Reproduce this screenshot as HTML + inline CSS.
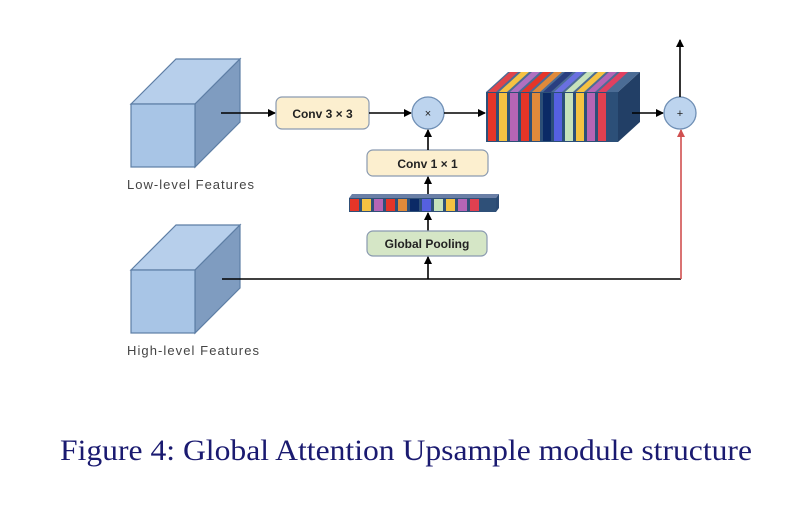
<!DOCTYPE html>
<html><head><style>html,body{margin:0;padding:0;background:#fff;}</style></head>
<body>
<svg width="800" height="507" viewBox="0 0 800 507" xmlns="http://www.w3.org/2000/svg" font-family="Liberation Sans, sans-serif">
<defs>
<marker id="ah" markerWidth="8" markerHeight="8" refX="7" refY="4" orient="auto" markerUnits="userSpaceOnUse"><path d="M0,0 L8,4 L0,8 Z" fill="#000"/></marker>
<marker id="ahr" markerWidth="8" markerHeight="8" refX="7" refY="4" orient="auto" markerUnits="userSpaceOnUse"><path d="M0,0 L8,4 L0,8 Z" fill="#d05050"/></marker>
</defs>
<g stroke="#5d7ea5" stroke-width="1.2">
<polygon points="131,104 176,59 240,59 195,104" fill="#b7cfeb"/>
<polygon points="195,104 240,59 240,122 195,167" fill="#7f9cc0"/>
<rect x="131" y="104" width="64" height="63" fill="#a8c5e6"/>
</g>
<text x="127" y="189" font-size="13" fill="#444" textLength="127">Low-level Features</text>
<g stroke="#5d7ea5" stroke-width="1.2">
<polygon points="131,270 176,225 240,225 195,270" fill="#b7cfeb"/>
<polygon points="195,270 240,225 240,288 195,333" fill="#7f9cc0"/>
<rect x="131" y="270" width="64" height="63" fill="#a8c5e6"/>
</g>
<text x="127" y="355" font-size="13" fill="#444" textLength="132">High-level Features</text>
<line x1="221" y1="113" x2="275" y2="113" stroke="#000" stroke-width="1.6" marker-end="url(#ah)"/>
<rect x="276" y="97" width="93" height="32" rx="6" fill="#fcefcf" stroke="#8a9ab0" stroke-width="1.2"/>
<text x="322.5" y="118" font-size="12" font-weight="bold" text-anchor="middle" fill="#222">Conv 3 × 3</text>
<line x1="369" y1="113" x2="411" y2="113" stroke="#000" stroke-width="1.6" marker-end="url(#ah)"/>
<circle cx="428" cy="113" r="16" fill="#bdd4ee" stroke="#6f8fb5" stroke-width="1.3"/>
<text x="428" y="117" font-size="11" text-anchor="middle" fill="#222">×</text>
<line x1="444" y1="113" x2="485" y2="113" stroke="#000" stroke-width="1.6" marker-end="url(#ah)"/>
<rect x="367" y="150" width="121" height="26" rx="6" fill="#fcefcf" stroke="#8a9ab0" stroke-width="1.2"/>
<text x="427.5" y="168" font-size="12" font-weight="bold" text-anchor="middle" fill="#222">Conv 1 × 1</text>
<line x1="428" y1="150" x2="428" y2="130" stroke="#000" stroke-width="1.6" marker-end="url(#ah)"/>
<line x1="428" y1="196" x2="428" y2="177" stroke="#000" stroke-width="1.6" marker-end="url(#ah)"/>
<g>
<polygon points="349,198 352,194 499,194 496,198" fill="#6a7fa6"/>
<polygon points="496,198 499,194 499,208 496,212" fill="#2b4a73"/>
<rect x="349" y="198" width="147" height="14" fill="#2f5078"/>
<rect x="350" y="199" width="9" height="12" fill="#e53528"/>
<rect x="362" y="199" width="9" height="12" fill="#f5c242"/>
<rect x="374" y="199" width="9" height="12" fill="#b565b5"/>
<rect x="386" y="199" width="9" height="12" fill="#e53528"/>
<rect x="398" y="199" width="9" height="12" fill="#e08a3a"/>
<rect x="410" y="199" width="9" height="12" fill="#0b2a66"/>
<rect x="422" y="199" width="9" height="12" fill="#5560e0"/>
<rect x="434" y="199" width="9" height="12" fill="#c7e2bb"/>
<rect x="446" y="199" width="9" height="12" fill="#f5c242"/>
<rect x="458" y="199" width="9" height="12" fill="#b565b5"/>
<rect x="470" y="199" width="9" height="12" fill="#e04050"/>
</g>
<line x1="428" y1="231" x2="428" y2="213" stroke="#000" stroke-width="1.6" marker-end="url(#ah)"/>
<rect x="367" y="231" width="120" height="25" rx="6" fill="#d5e6c6" stroke="#8a9ab0" stroke-width="1.2"/>
<text x="427" y="248" font-size="12" font-weight="bold" text-anchor="middle" fill="#222">Global Pooling</text>
<line x1="428" y1="279" x2="428" y2="257" stroke="#000" stroke-width="1.6" marker-end="url(#ah)"/>
<line x1="222" y1="279" x2="681" y2="279" stroke="#000" stroke-width="1.6"/>
<polygon points="486,92 508,72 640,72 618,92" fill="#4b6c95"/>
<g>
<polygon points="488,92 510,72 518,72 496,92" fill="#e0454a"/>
<polygon points="499,92 521,72 529,72 507,92" fill="#f5c242"/>
<polygon points="510,92 532,72 540,72 518,92" fill="#b070c0"/>
<polygon points="521,92 543,72 551,72 529,92" fill="#e53528"/>
<polygon points="532,92 554,72 562,72 540,92" fill="#e08a3a"/>
<polygon points="543,92 565,72 573,72 551,92" fill="#2a3f80"/>
<polygon points="554,92 576,72 584,72 562,92" fill="#6a70e0"/>
<polygon points="565,92 587,72 595,72 573,92" fill="#c7e2bb"/>
<polygon points="576,92 598,72 606,72 584,92" fill="#f5c242"/>
<polygon points="587,92 609,72 617,72 595,92" fill="#b565b5"/>
<polygon points="598,92 620,72 628,72 606,92" fill="#e04060"/>
</g>
<polygon points="618,92 640,72 640,122 618,142" fill="#223f66"/>
<rect x="486" y="92" width="132" height="50" fill="#2c4f78"/>
<rect x="488" y="93" width="8" height="48" fill="#e53528"/>
<rect x="499" y="93" width="8" height="48" fill="#f5c242"/>
<rect x="510" y="93" width="8" height="48" fill="#b565b5"/>
<rect x="521" y="93" width="8" height="48" fill="#e53528"/>
<rect x="532" y="93" width="8" height="48" fill="#e08a3a"/>
<rect x="543" y="93" width="8" height="48" fill="#0b2a66"/>
<rect x="554" y="93" width="8" height="48" fill="#5560e0"/>
<rect x="565" y="93" width="8" height="48" fill="#c7e2bb"/>
<rect x="576" y="93" width="8" height="48" fill="#f5c242"/>
<rect x="587" y="93" width="8" height="48" fill="#b565b5"/>
<rect x="598" y="93" width="8" height="48" fill="#e04050"/>
<line x1="632" y1="113" x2="663" y2="113" stroke="#000" stroke-width="1.6" marker-end="url(#ah)"/>
<circle cx="680" cy="113" r="16" fill="#bdd4ee" stroke="#6f8fb5" stroke-width="1.3"/>
<text x="680" y="117" font-size="11" text-anchor="middle" fill="#222">+</text>
<line x1="680" y1="97" x2="680" y2="40" stroke="#000" stroke-width="1.6" marker-end="url(#ah)"/>
<line x1="681" y1="279" x2="681" y2="130" stroke="#d05050" stroke-width="1.6" marker-end="url(#ahr)"/>
<text x="60" y="460" font-family="Liberation Serif, serif" font-size="30" fill="#1a1a70" textLength="692" lengthAdjust="spacingAndGlyphs">Figure 4: Global Attention Upsample module structure</text>
</svg>
</body></html>
